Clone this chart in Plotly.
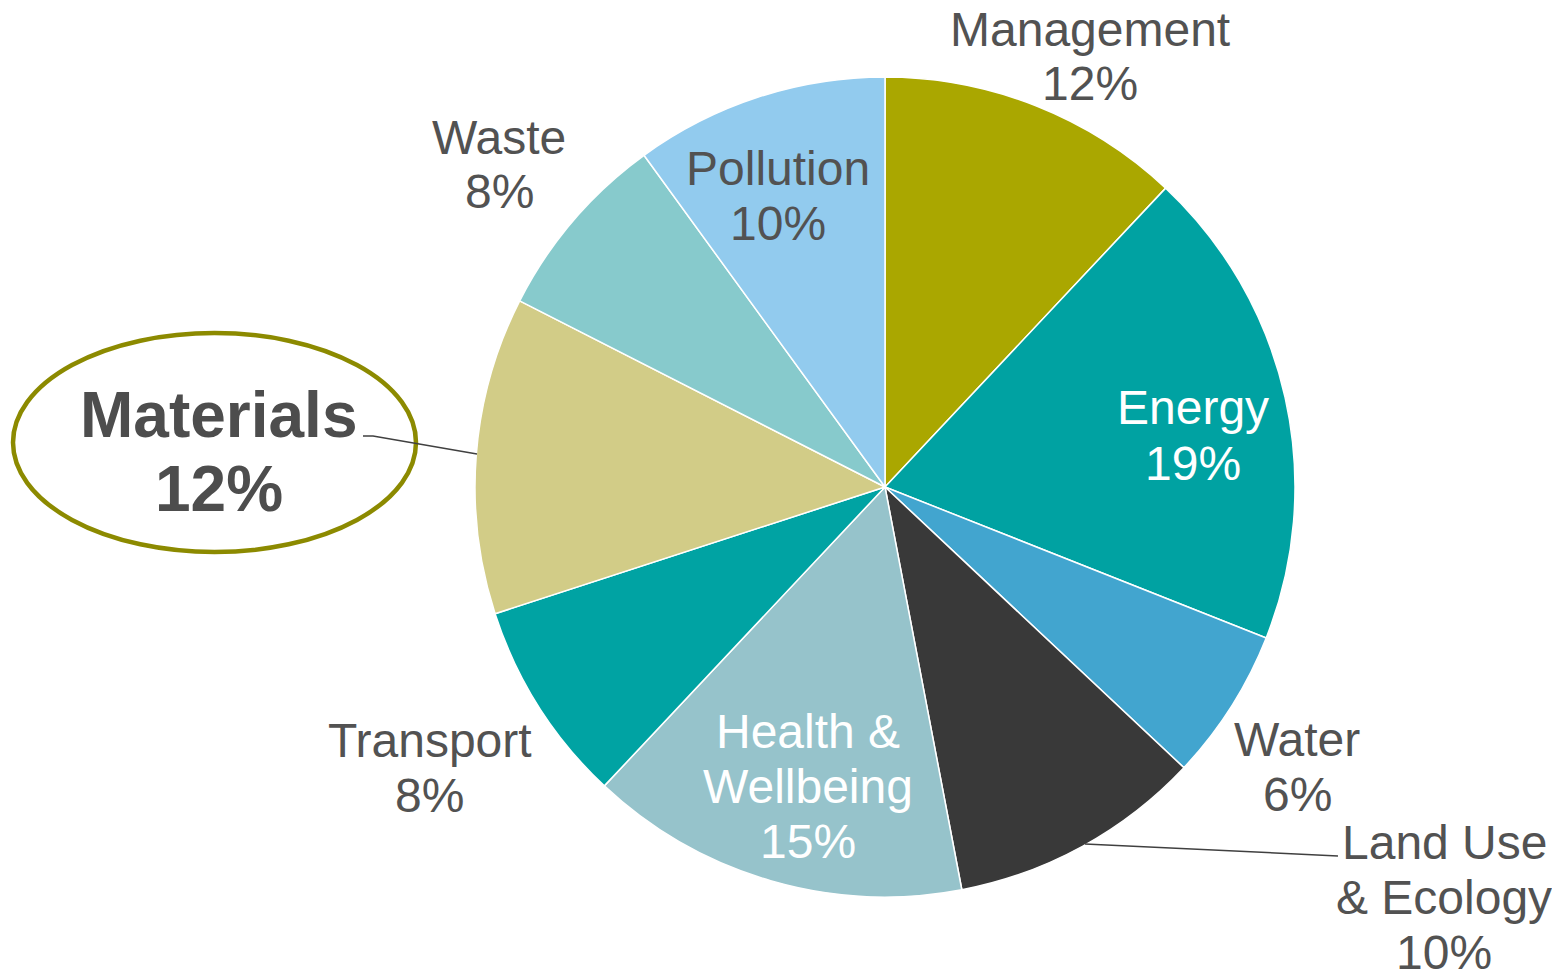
import plotly.graph_objects as go

# the page body adds an 8px margin; the figure is sized and positioned to compensate
OFF = 8
W, H = 1560 - OFF, 973 - OFF

categories = ["Management", "Energy", "Water", "Land Use & Ecology", "Health & Wellbeing",
              "Transport", "Materials", "Waste", "Pollution"]
weights = [12, 19, 6, 10, 15, 8, 12.5, 7.5, 10]
pct_labels = ["12%", "19%", "6%", "10%", "15%", "8%", "12%", "8%", "10%"]
colors = ["#AAA700", "#00A2A2", "#42A5CF", "#393939", "#96C3CB",
          "#00A3A3", "#D2CC87", "#87CACC", "#92CBEE"]

label_lines = {
    "Management": ["Management"],
    "Energy": ["Energy"],
    "Water": ["Water"],
    "Land Use & Ecology": ["Land Use", "& Ecology"],
    "Health & Wellbeing": ["Health &", "Wellbeing"],
    "Transport": ["Transport"],
    "Materials": ["Materials"],
    "Waste": ["Waste"],
    "Pollution": ["Pollution"],
}
# centre x (px), first-line centre y (px), colour  -- in reference-page pixels
label_pos = {
    "Management": (1090, 29, "#525252"),
    "Energy": (1193, 408, "#FFFFFF"),
    "Water": (1297, 739, "#525252"),
    "Land Use & Ecology": (1444, 842, "#525252"),
    "Health & Wellbeing": (808, 731, "#FFFFFF"),
    "Transport": (430, 740, "#525252"),
    "Materials": (219, 415, "#4D4D4D"),
    "Waste": (499, 137, "#525252"),
    "Pollution": (778, 169, "#525252"),
}


def px(x, y):
    return (x - OFF) / W, 1 - (y - OFF) / H


cx, cy, R = 885, 487, 410
dx0, dy0 = px(cx - R, cy + R)
dx1, dy1 = px(cx + R, cy - R)

fig = go.Figure(go.Pie(
    labels=categories,
    values=weights,
    sort=False,
    direction="clockwise",
    rotation=0,
    marker=dict(colors=colors, line=dict(color="white", width=1.5)),
    textinfo="none",
    hoverinfo="label+percent",
    showlegend=False,
    domain=dict(x=[dx0, dx1], y=[dy0, dy1]),
))

annotations = []
for cat, pct in zip(categories, pct_labels):
    x, y0, col = label_pos[cat]
    bold = cat == "Materials"
    size = 64 if bold else 48
    step = 74 if bold else 55
    lines = label_lines[cat] + [pct]
    for i, ln in enumerate(lines):
        txt = f"<b>{ln}</b>" if bold else ln
        ax, ay = px(x, y0 + i * step)
        annotations.append(dict(
            x=ax, y=ay, xref="paper", yref="paper",
            text=txt, showarrow=False, xanchor="center", yanchor="middle",
            font=dict(family="Liberation Sans, Arial, sans-serif", size=size, color=col),
        ))

shapes = []
x0, y0 = px(13, 552)
x1, y1 = px(416, 333)
shapes.append(dict(type="circle", xref="paper", yref="paper", x0=x0, y0=y0, x1=x1, y1=y1,
                   line=dict(color="#8C8A00", width=4.5)))
pts_m = [px(363, 436), px(373, 436), px(477, 454)]
path_m = "M {} {} L {} {} L {} {}".format(*[v for p in pts_m for v in p])
shapes.append(dict(type="path", xref="paper", yref="paper", path=path_m,
                   line=dict(color="#404040", width=1.5)))
pts_l = [px(1085, 844), px(1338, 856)]
path_l = "M {} {} L {} {}".format(*[v for p in pts_l for v in p])
shapes.append(dict(type="path", xref="paper", yref="paper", path=path_l,
                   line=dict(color="#404040", width=1.5)))

fig.update_layout(
    width=W, height=H,
    margin=dict(l=0, r=0, t=0, b=0),
    paper_bgcolor="white", plot_bgcolor="white",
    annotations=annotations, shapes=shapes,
)

fig.write_html("out.html")
